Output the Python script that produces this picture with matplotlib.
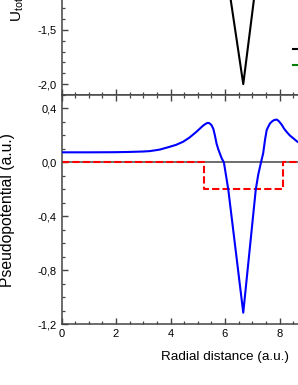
import matplotlib
matplotlib.use("Agg")
import matplotlib.pyplot as plt
from matplotlib.ticker import MultipleLocator, FuncFormatter

plt.rcParams['font.family'] = ['Liberation Sans', 'DejaVu Sans']
plt.rcParams['mathtext.fontset'] = 'custom'
plt.rcParams['mathtext.rm'] = 'Liberation Sans'
plt.rcParams['mathtext.it'] = 'Liberation Sans'

# total potential (upper panel)
r_tot = [0, 2, 3, 4, 4.5, 5, 5.35, 5.7, 5.95, 6.21, 6.67, 7.06, 7.3, 7.55, 7.86, 8.2, 8.6, 9, 10, 11, 12]
u_tot = [0.07, 0.07, 0.08, 0.12, 0.16, 0.23, 0.3, -0.1, -0.78, -1.224, -2.0, -1.224, -0.7, 0.15, 0.31, 0.23, 0.16, 0.12, 0.07, 0.05, 0.04]

# pseudopotential (lower panel)
r_ps = [0, 1, 2, 2.5, 3, 3.24, 3.6, 3.97, 4.2, 4.46, 4.7, 4.95, 5.1, 5.19, 5.28, 5.36, 5.42, 5.5, 5.57,
        5.63, 5.69, 5.75, 5.81, 5.88, 5.96, 6.04, 6.12, 6.67, 7.13, 7.22, 7.32, 7.40, 7.47, 7.53, 7.6,
        7.65, 7.72, 7.8, 7.9, 7.98, 8.08, 8.17, 8.26, 8.38, 8.5, 8.66, 9, 10, 11, 12]
v_ps = [0.075, 0.075, 0.076, 0.078, 0.081, 0.084, 0.095, 0.116, 0.13, 0.153, 0.185, 0.227, 0.255, 0.272,
        0.285, 0.293, 0.292, 0.278, 0.25, 0.2, 0.14, 0.1, 0.067, 0.03, 0.0, -0.1, -0.2, -1.114, -0.2,
        -0.09, 0.0, 0.067, 0.17, 0.24, 0.27, 0.289, 0.303, 0.314, 0.318, 0.305, 0.28, 0.25, 0.227, 0.2,
        0.18, 0.153, 0.125, 0.09, 0.08, 0.077]

# square well model
r_well = [0, 5.24, 5.24, 8.12, 8.12, 12]
v_well = [0, 0, -0.2, -0.2, 0, 0]

spine_col = '#444444'
comma = FuncFormatter(lambda v, p: f"{v:.1f}".replace('.', ','))


def style(ax):
    for s in ax.spines.values():
        s.set_color(spine_col)
        s.set_linewidth(1.1)
    ax.tick_params(which='both', direction='in', color=spine_col, labelsize=8, top=True, right=True)
    ax.tick_params(which='major', length=4, width=1.0, pad=3.5)
    ax.tick_params(which='minor', length=2.2, width=0.9)
    ax.xaxis.set_major_locator(MultipleLocator(2))
    ax.xaxis.set_minor_locator(MultipleLocator(0.5))
    ax.set_xlim(0, 12)


fig = plt.figure(figsize=(2.98, 3.85), dpi=100)
left, width = 61.5 / 298, 327 / 298
ax1 = fig.add_axes([left, 1 - 95 / 385, width, 271.5 / 385])
ax2 = fig.add_axes([left, 1 - 324.3 / 385, width, 229.3 / 385])

# upper panel
style(ax1)
ax1.plot(r_tot, u_tot, color='black', lw=1.5, label='U$_{tot}$')
ax1.plot([], [], color='#008000', lw=1.5, label='model')
ax1.set_ylim(-2.1, 0.4)
ax1.yaxis.set_major_locator(MultipleLocator(0.5))
ax1.yaxis.set_minor_locator(MultipleLocator(0.1))
ax1.yaxis.set_major_formatter(comma)
ax1.tick_params(labelbottom=False)
ax1.legend(loc='upper left', bbox_to_anchor=(293 / 298, 1 - 42.5 / 385), bbox_transform=fig.transFigure,
           frameon=False, borderpad=0, borderaxespad=0, handlelength=2, fontsize=8.5, labelspacing=0.2)
fig.text(17 / 298, 1 - 22 / 385, 'U$_{tot}$ (a.u.)', rotation=90, ha='center', va='bottom', fontsize=11)

# lower panel
style(ax2)
ax2.axhline(0, color='#555555', lw=1.2, zorder=1)
ax2.plot(r_well, v_well, color='red', lw=1.5, dashes=(3.5, 1.5), zorder=2)
ax2.plot(r_ps, v_ps, color='blue', lw=1.5, zorder=3)
ax2.set_ylim(-1.2, 0.5)
ax2.yaxis.set_major_locator(MultipleLocator(0.4))
ax2.yaxis.set_minor_locator(MultipleLocator(0.1))
ax2.yaxis.set_major_formatter(comma)
ax2.set_xlabel('Radial distance (a.u.)', fontsize=9.7, labelpad=8.5)
ax2.set_ylabel('Pseudopotential (a.u.)', fontsize=11.3)
ax2.yaxis.set_label_coords(15.5 / 298, 1 - 209.6 / 385, transform=fig.transFigure)

fig.savefig('out.png', dpi=100)
